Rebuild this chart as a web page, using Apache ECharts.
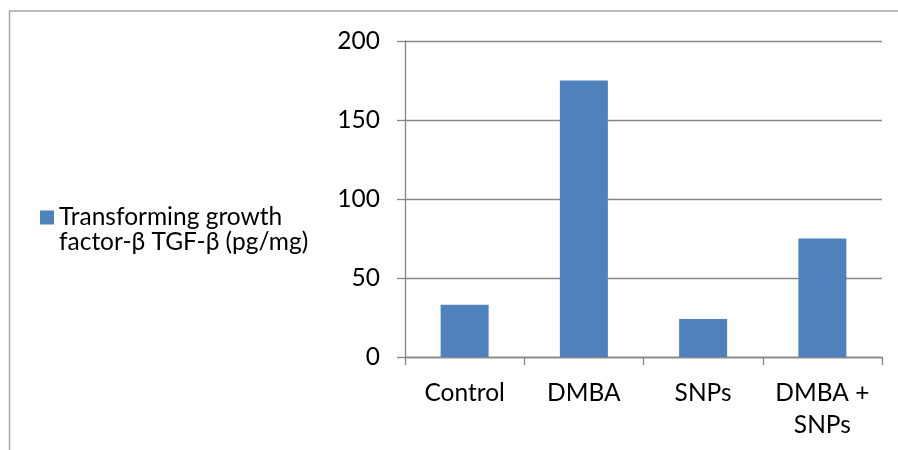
<!DOCTYPE html>
<html>
<head>
<meta charset="utf-8">
<script src="https://cdn.jsdelivr.net/npm/echarts@6/dist/echarts.min.js"></script>
<style>html,body{margin:0;padding:0;background:#fff;}#c{width:898px;height:450px;}</style>
</head>
<body>
<div id="c"></div>
<script>
var categories = ['Control', 'DMBA', 'SNPs', 'DMBA +\nSNPs'];
var seriesName = 'Transforming growth\nfactor-β TGF-β (pg/mg)';
var values = [33, 175, 24, 75];
var yTicks = [0, 50, 100, 150, 200];

var chart = echarts.init(document.getElementById('c'));
var font = 'Lato';
var fs = 24.5;
chart.setOption({
  animation: false,
  backgroundColor: '#fff',
  graphic: [
    {type: 'line', shape: {x1: 9, y1: 11, x2: 898, y2: 11}, style: {stroke: '#a6a6a6', lineWidth: 1.5}},
    {type: 'line', shape: {x1: 9.5, y1: 11, x2: 9.5, y2: 450}, style: {stroke: '#a6a6a6', lineWidth: 1.5}}
  ],
  legend: {
    left: 35, top: 175, orient: 'vertical',
    itemWidth: 14, itemHeight: 14,
    icon: 'rect',
    formatter: function (n) { return ' \n' + n; },
    textStyle: {fontFamily: font, fontSize: fs, color: '#000', lineHeight: 25}
  },
  grid: {left: 405, right: 16, top: 41, bottom: 93, containLabel: false},
  xAxis: {
    type: 'category', data: categories,
    axisLine: {lineStyle: {color: '#868686', width: 1.3}},
    axisTick: {show: true, length: 8, lineStyle: {color: '#868686', width: 1.3}},
    axisLabel: {fontFamily: font, fontSize: fs, color: '#000', margin: 20, lineHeight: 32, interval: 0}
  },
  yAxis: {
    type: 'value', min: yTicks[0], max: yTicks[yTicks.length - 1], interval: 50,
    axisLine: {show: true, lineStyle: {color: '#868686', width: 1.3}},
    axisTick: {show: true, length: 8, lineStyle: {color: '#868686', width: 1.3}},
    splitLine: {show: true, lineStyle: {color: '#868686', width: 1.3}},
    axisLabel: {fontFamily: font, fontSize: fs, color: '#000', margin: 25}
  },
  series: [{
    name: seriesName, type: 'bar', data: values,
    barWidth: 48,
    itemStyle: {color: '#4f81bd'}
  }]
});
</script>
</body>
</html>
